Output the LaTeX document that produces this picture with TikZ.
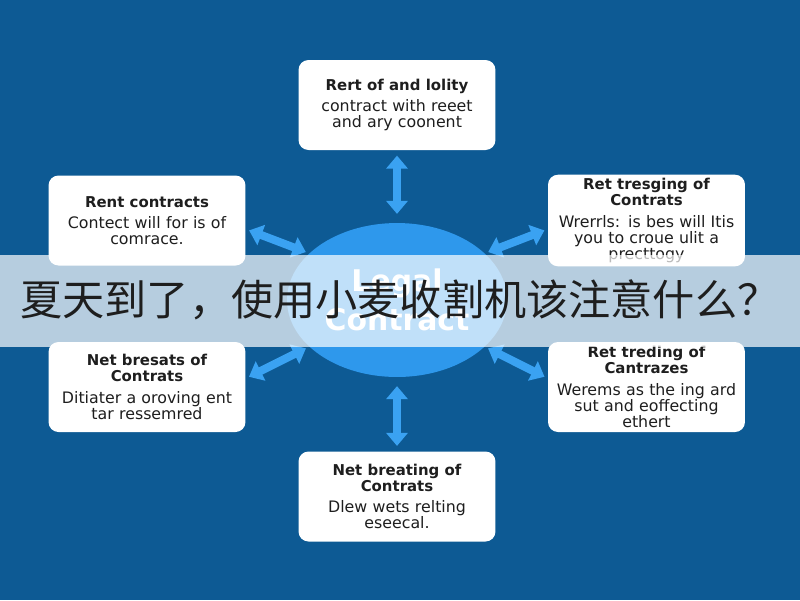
\documentclass[tikz,border=0pt]{standalone}
\usepackage{fontspec}
\setmainfont{DejaVu Sans}
\newfontfamily\cjk{Noto Sans CJK SC}
\usepackage{tikz}
\usetikzlibrary{arrows.meta,shapes.geometric,positioning}
\usepackage{xcolor}
\definecolor{bgblue}{HTML}{0D5A94}
\definecolor{hubblue}{HTML}{2E98EC}
\definecolor{arrowblue}{HTML}{3AA2F2}
\definecolor{inktext}{HTML}{1E1E1E}

\begin{document}
\begin{tikzpicture}[x=0.02cm,y=-0.02cm,
    card/.style={fill=white, rounded corners=0.2cm, minimum width=3.94cm, minimum height=1.8cm,
        text width=3.75cm, align=center, inner sep=2pt, text=inktext,
        font=\fontsize{9}{9.2}\selectfont},
    link/.style={arrowblue, line width=0.16cm,
        {Triangle[width=0.42cm,length=0.26cm]}-{Triangle[width=0.42cm,length=0.26cm]},
        shorten <=2pt, shorten >=2pt}]
    % Background
    \fill[bgblue] (0,0) rectangle (800,600);
    \useasboundingbox (0,0) rectangle (800,600);

    % Central hub
    \node[ellipse, fill=hubblue, minimum width=4.4cm, minimum height=3.08cm, inner sep=0pt,
          text=white, align=center, font=\fontsize{17}{22}\selectfont\bfseries]
        (legal) at (397,300) {Legal\\Contract};

    % Cards round the hub
    \node[card] (top) at (397,105) {{\fontsize{8.5}{9}\selectfont\bfseries Rert of and lolity}\\[3pt]contract with reeet\\and ary coonent};
    \node[card] (lt) at (147,220.5) {{\fontsize{8.5}{9}\selectfont\bfseries Rent contracts}\\[3pt]Contect will for is of\\comrace.};
    \node[card] (rt) at (646.5,220.5) {{\fontsize{8.5}{9}\selectfont\bfseries Ret tresging of\\Contrats}\\[3pt]Wrerrls: is bes will Itis\\you to croue ulit a\\precttogy};
    \node[card] (lb) at (147,387) {{\fontsize{8.5}{9}\selectfont\bfseries Net bresats of\\Contrats}\\[3pt]Ditiater a oroving ent\\tar ressemred};
    \node[card] (rb) at (646.5,387) {{\fontsize{8.5}{9}\selectfont\bfseries Ret treding of\\Cantrazes}\\[3pt]Werems as the ing ard\\sut and eoffecting\\ethert};
    \node[card] (bot) at (397,496.5) {{\fontsize{8.5}{9}\selectfont\bfseries Net breating of\\Contrats}\\[3pt]Dlew wets relting\\eseecal.};

    % Double arrows
    \draw[link, shorten <=3pt, shorten >=5pt] (top.south) -- (legal.north);
    \draw[link, shorten <=5pt, shorten >=3pt] (legal.south) -- (bot.north);
    \draw[link] (lt.-5) -- (legal.152);
    \draw[link] (rt.185) -- (legal.28);
    \draw[link] (lb.5) -- (legal.208);
    \draw[link] (rb.175) -- (legal.-28);

    % Caption band
    \fill[white, opacity=0.7] (0,255) rectangle (800,347);
    \node[anchor=west, inner sep=0pt, text=inktext, font=\cjk\fontsize{24}{28}\selectfont]
        (caption) at (20,300) {夏天到了，使用小麦收割机该注意什么？};
\end{tikzpicture}
\end{document}
